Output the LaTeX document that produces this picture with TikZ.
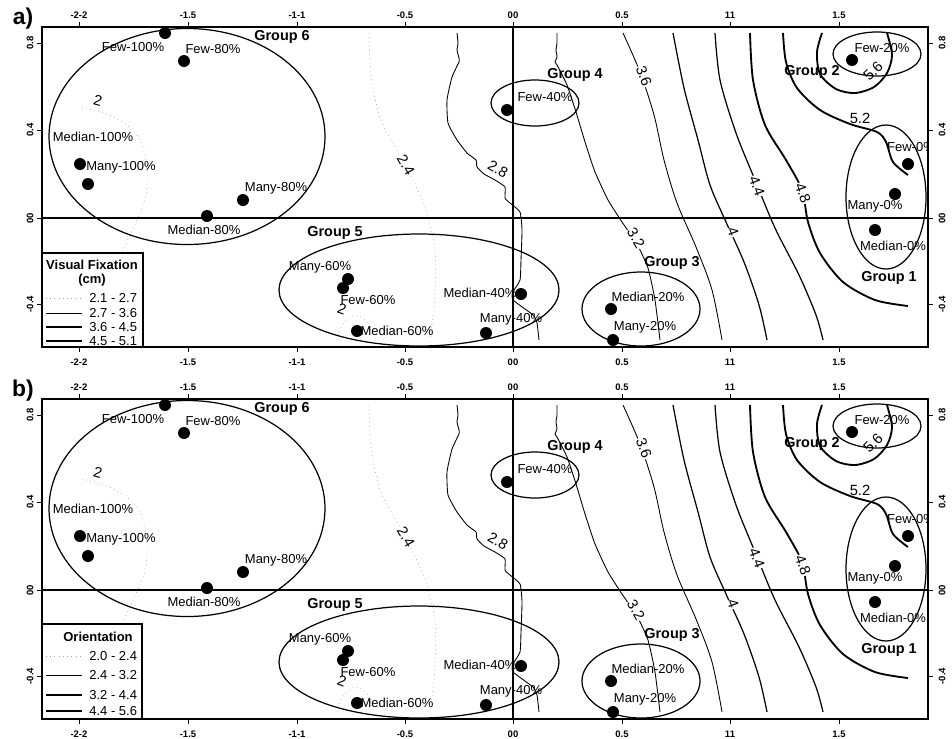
\documentclass[tikz,border=0pt]{standalone}
\usepackage{fontspec}
\setmainfont{Liberation Sans}
\usetikzlibrary{positioning}

\begin{document}
\begin{tikzpicture}[x=0.02cm,y=-0.02cm,
		dot/.style={circle,fill=black,inner sep=0pt,minimum size=0.24cm},
		lab/.style={font=\fontsize{7.4}{8}\selectfont,inner sep=0pt},
		grp/.style={font=\bfseries\fontsize{8.2}{9}\selectfont,inner sep=0pt},
		legt/.style={font=\bfseries\fontsize{7.4}{8}\selectfont,inner sep=0pt},
		tick/.style={font=\bfseries\fontsize{5.4}{6}\selectfont,inner sep=0pt},
		clab/.style={font=\fontsize{8.4}{9}\selectfont,inner sep=0.4pt,fill=white},
		klab/.style={font=\fontsize{8.4}{9}\selectfont,inner sep=0pt},
		c1/.style={gray!70,dotted,line width=0.4pt},
		c2/.style={line width=0.5pt},
		c3/.style={line width=0.7pt},
		c4/.style={line width=1.05pt}]
		\useasboundingbox (0,0) rectangle (952,738);
		\node[font=\bfseries\fontsize{13}{14}\selectfont] (pa) at (23,19) {a)};
		\node[font=\bfseries\fontsize{13}{14}\selectfont] (pb) at (23,391) {b)};
		\foreach \p/\dy in {a/0,b/372}{
		\begin{scope}[shift={(0,\dy)}]
		% ticks and tick labels
		\foreach \x/\t [count=\i] in {79/-2-2,188/-1.5,297/-1-1,405/-0.5,513/00,622/0.5,730/11,839/1.5}{
			\draw (\x,27) -- (\x,22);
			\draw (\x,347) -- (\x,352);
			\node[tick] (top\i\p) at (\x,15) {\t};
			\node[tick] (bot\i\p) at (\x,362) {\t};
		}
		\foreach \y/\t [count=\i] in {43/0.8,130/0.4,218/00,304/-0.4}{
			\draw (42,\y) -- (37,\y);
			\draw (928,\y) -- (933,\y);
			\node[tick,rotate=90] (left\i\p) at (30,\y) {\t};
			\node[tick,rotate=90] (right\i\p) at (942,\y) {\t};
		}
		\begin{scope}
		\clip (42,27) rectangle (928,347);
		% contours
		\draw[c1] plot[smooth] coordinates {(82,107) (110,115) (133,130) (143,147) (147,173) (146,195) (140,213) (122,252)};
		\node[klab,rotate=-15] (k20\p) at (98,101) {2};
		\draw[c1] plot[smooth] coordinates {(369,33) (371,75) (380,118) (397,150) (412,178) (426,210) (435,250) (435,297) (430,340)};
		\node[clab,rotate=-60] (k24\p) at (406,165) {2.4};
		\draw[c1] plot[smooth] coordinates {(338,340) (342,325) (355,315) (367,322) (373,338)};
		\node[klab,rotate=-20] (k20s\p) at (342,309) {2};
		\draw[c2] plot[smooth,tension=0.3] coordinates {(457,33) (458,43) (457,50) (459,58) (459,62) (452,77) (447,100) (448,123) (457,140) (467,153) (476,160) (477,167) (484,174) (495,180) (505,187) (505,198) (510,203) (520,212) (522,230) (521,260) (520,280) (513,292) (513,300) (533,315) (537,323) (539,340)};
		\node[klab,rotate=-30] (k28\p) at (498,169) {2.8};
		\draw[c2] plot[smooth,tension=0.3] coordinates {(557,33) (557,43) (556,50) (557,57) (555,62) (557,65) (567,85) (576,112) (585,142) (595,172) (608,200) (622,222) (637,244) (648,268) (655,300) (660,340)};
		\node[clab,rotate=-60] (k32\p) at (636,238) {3.2};
		\draw[c2] plot[smooth] coordinates {(623,33) (640,72) (654,115) (664,160) (677,203) (696,247) (712,290) (722,340)};
		\node[clab,rotate=-70] (k36\p) at (644,76) {3.6};
		\draw[c3] plot[smooth] coordinates {(673,33) (684,88) (698,140) (710,185) (726,222) (744,262) (759,305) (767,340)};
		\node[clab,rotate=-70] (k40\p) at (733,232) {4};
		\draw[c3] plot[smooth] coordinates {(715,33) (720,80) (736,133) (755,180) (775,228) (799,275) (816,315) (823,340)};
		\node[clab,rotate=-70] (k44\p) at (757,186) {4.4};
		\draw[c4] plot[smooth] coordinates {(750,33) (753,80) (765,125) (786,160) (802,190) (808,222) (820,253) (843,282) (875,300) (908,306)};
		\node[clab,rotate=-70] (k48\p) at (803,193) {4.8};
		\draw[c4] plot[smooth] coordinates {(783,33) (786,62) (797,88) (820,110) (850,124) (877,132) (886,142) (893,162) (908,175)};
		\node[klab] (k52\p) at (860,118) {5.2};
		\draw[c4] plot[smooth] coordinates {(822,33) (817,52) (820,74) (836,89) (855,93) (874,87) (887,73) (892,55) (887,33)};
		\node[clab,rotate=45] (k56\p) at (873,71) {5.6};
		% zero lines
		\draw[line width=1.4pt] (42,218) -- (928,218);
		\draw[line width=1.4pt] (513,27) -- (513,347);
		% groups
		\draw[line width=0.7pt] (187,136.5) ellipse [x radius=138, y radius=108];
		\draw[line width=0.7pt] (535,103) ellipse [x radius=44, y radius=23];
		\draw[line width=0.7pt] (419,290) ellipse [x radius=140, y radius=56];
		\draw[line width=0.7pt] (641,309) ellipse [x radius=59, y radius=37];
		\draw[line width=0.7pt] (877,54) ellipse [x radius=44, y radius=22];
		\draw[line width=0.7pt] (886,197) ellipse [x radius=40, y radius=72];
		% group 6
		\node[dot] (few100\p) at (165,33) {};
		\node[dot] (few80\p) at (184,61) {};
		\node[dot] (many100\p) at (80,164) {};
		\node[dot] (med100\p) at (88,184) {};
		\node[dot] (many80\p) at (243,200) {};
		\node[dot] (med80\p) at (207,216) {};
		\node[lab] (few100l\p) at (133,47) {Few-100\%};
		\node[lab] (few80l\p) at (213,49) {Few-80\%};
		\node[lab] (med100l\p) at (93,137) {Median-100\%};
		\node[lab] (many100l\p) at (121,167) {Many-100\%};
		\node[lab] (many80l\p) at (276,188) {Many-80\%};
		\node[lab] (med80l\p) at (204,230) {Median-80\%};
		\node[grp] (g6\p) at (282,37) {Group 6};
		% group 4
		\node[dot] (few40\p) at (507,110) {};
		\node[lab] (few40l\p) at (545,97) {Few-40\%};
		\node[grp] (g4\p) at (575,75) {Group 4};
		% group 5
		\node[dot] (many60\p) at (348,279) {};
		\node[dot] (few60\p) at (343,288) {};
		\node[dot] (med60\p) at (357,331) {};
		\node[dot] (med40\p) at (521,294) {};
		\node[dot] (many40\p) at (486,333) {};
		\node[lab] (many60l\p) at (320,267) {Many-60\%};
		\node[lab] (few60l\p) at (368,300) {Few-60\%};
		\node[lab] (med60l\p) at (397,331) {Median-60\%};
		\node[lab] (med40l\p) at (480,293) {Median-40\%};
		\node[lab] (many40l\p) at (511,319) {Many-40\%};
		\node[grp] (g5\p) at (335,233) {Group 5};
		% group 3
		\node[dot] (med20\p) at (611,309) {};
		\node[dot] (many20\p) at (613,340) {};
		\node[lab] (med20l\p) at (648,297) {Median-20\%};
		\node[lab] (many20l\p) at (645,327) {Many-20\%};
		\node[grp] (g3\p) at (672,263) {Group 3};
		% group 2
		\node[dot] (few20\p) at (852,60) {};
		\node[lab] (few20l\p) at (882,48) {Few-20\%};
		\node[grp] (g2\p) at (812,72) {Group 2};
		% group 1
		\node[dot] (few0\p) at (908,164) {};
		\node[dot] (many0\p) at (895,194) {};
		\node[dot] (med0\p) at (875,230) {};
		\node[lab] (few0l\p) at (911,147) {Few-0\%};
		\node[lab] (many0l\p) at (875,206) {Many-0\%};
		\node[lab] (med0l\p) at (893,246) {Median-0\%};
		\node[grp] (g1\p) at (889,278) {Group 1};
		\end{scope}
		\draw[line width=0.8pt] (42,27) rectangle (928,347);
		\end{scope}
		}
		% legend a
		\draw[fill=white,line width=0.8pt] (42,253) rectangle (143,347);
		\node[legt] (lega) at (92,265) {Visual Fixation};
		\node[legt] (legacm) at (92,280) {(cm)};
		\foreach \y/\s/\t in {298/c1/2.1 - 2.7,313/c2/2.7 - 3.6,327/c3/3.6 - 4.5,341/c4/4.5 - 5.1}{
			\draw[\s] (46,\y) -- (82,\y);
			\node[lab,anchor=west] at (89,\y) {\t};
		}
		% legend b
		\draw[fill=white,line width=0.8pt] (42,624) rectangle (142,719);
		\node[legt] (legb) at (98,637) {Orientation};
		\foreach \y/\s/\t in {656/c1/2.0 - 2.4,675/c2/2.4 - 3.2,695/c3/3.2 - 4.4,711/c4/4.4 - 5.6}{
			\draw[\s] (46,\y) -- (82,\y);
			\node[lab,anchor=west] at (89,\y) {\t};
		}
	\end{tikzpicture}
\end{document}
